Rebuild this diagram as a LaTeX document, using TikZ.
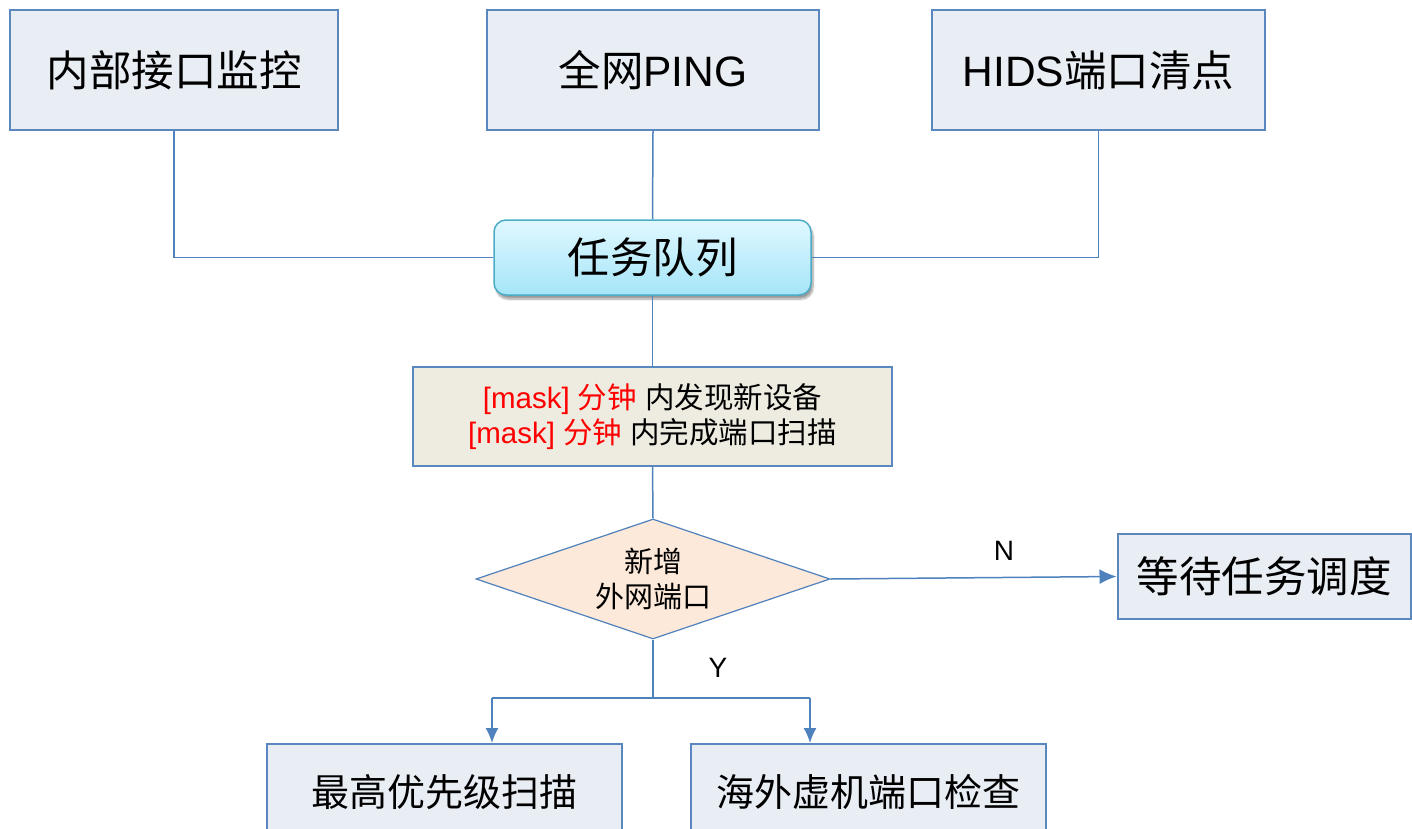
\documentclass[tikz,border=0pt]{standalone}
\usepackage{fontspec}
\setmainfont{Liberation Sans}
\newfontfamily\cjk{Noto Sans CJK SC}
\usetikzlibrary{shapes.geometric,arrows.meta,shadows,shadows.blur}
\definecolor{boxfill}{HTML}{E9EDF4}
\definecolor{boxline}{HTML}{5B87C0}
\definecolor{linec}{HTML}{4F81BD}
\definecolor{maskfill}{HTML}{EEECE1}
\definecolor{diafill}{HTML}{FDE9D9}
\definecolor{qtop}{HTML}{E0F8FF}
\definecolor{qbot}{HTML}{A5E5F8}
\definecolor{qline}{HTML}{4BACC6}
\begin{document}
\begin{tikzpicture}[x=1pt,y=-1pt,
  sbox/.style={draw=boxline, fill=boxfill, line width=2pt, inner sep=0pt},
  fbig/.style={font=\fontsize{42.5}{50}\selectfont},
  fmid/.style={font=\fontsize{38}{44}\selectfont},
  fsmall/.style={font=\fontsize{29.5}{35}\selectfont},
  fdia/.style={font=\fontsize{29}{35}\selectfont},
  conn/.style={draw=linec, line width=1.5pt},
  arr/.style={conn, -{Latex[length=17pt,width=15pt]}},
  darr/.style={conn, -{Latex[length=15pt,width=13pt]}}]
\useasboundingbox (0,0) rectangle (1412,829);
\clip (0,0) rectangle (1412,829);
% top boxes
\node[sbox, fbig, minimum width=328pt, minimum height=120pt] (t1) at (174,70) {\cjk 内部接口监控};
\node[sbox, fbig, minimum width=332pt, minimum height=120pt] (t2) at (653,70) {{\cjk 全网}PING};
\node[sbox, fbig, minimum width=333pt, minimum height=120pt] (t3) at (1098.5,70) {HIDS{\cjk 端口清点}};
% task queue
\node[draw=qline, line width=1.5pt, rounded corners=12pt, top color=qtop, bottom color=qbot,
      blur shadow={shadow xshift=2pt, shadow yshift=-4pt, shadow blur steps=6},
      fbig, inner sep=0pt, minimum width=317pt, minimum height=75pt] (q) at (652.5,257.5) {\cjk 任务队列};
% mask box
\node[draw=boxline, fill=maskfill, line width=1.5pt, fsmall, inner sep=0pt, align=center,
      minimum width=479pt, minimum height=99pt] (m) at (652.5,416.5)
  {{\color{red}[mask] {\cjk 分钟}} {\cjk 内发现新设备}\\{\color{red}[mask] {\cjk 分钟}} {\cjk 内完成端口扫描}};
% decision
\node[diamond, draw=linec, line width=1.2pt, fill=diafill, fdia, inner sep=0pt, align=center,
      shape aspect=2.95, minimum width=354pt, minimum height=120pt] (d) at (653,579)
  {\cjk 新增\\\cjk 外网端口};
% wait box
\node[sbox, fbig, minimum width=293pt, minimum height=85pt] (w) at (1264,576.5) {\cjk 等待任务调度};
% bottom boxes
\node[sbox, fmid, minimum width=355pt, minimum height=96pt] (b1) at (444.5,792) {\cjk 最高优先级扫描};
\node[sbox, fmid, minimum width=355pt, minimum height=96pt] (b2) at (868.5,792) {\cjk 海外虚机端口检查};
% labels
\node[font=\fontsize{28}{32}\selectfont] (nl) at (1004,551) {N};
\node[font=\fontsize{28}{32}\selectfont] (yl) at (718,668) {Y};
% connectors
\draw[conn] (t1.south) |- (q.west);
\draw[conn] (t2.south) -- (q.north);
\draw[conn] (t3.south) |- (q.east);
\draw[conn] (q.south) -- (m.north);
\draw[conn] (m.south) -- (d.north);
\draw[arr] (d.east) -- (w.west);
\coordinate (yc) at (653,698);
\coordinate (y1) at (492,698);
\coordinate (y2) at (810,698);
\draw[conn] (d.south) -- (yc) -- (y1);
\draw[conn] (yc) -- (y2);
\draw[darr] (y1) -- (y1 |- b1.north);
\draw[darr] (y2) -- (y2 |- b2.north);
\end{tikzpicture}
\end{document}
